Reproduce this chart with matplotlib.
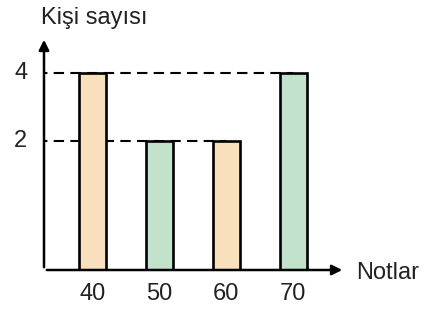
import numpy as np
import matplotlib.pyplot as plt

plt.rcParams['font.family'] = ['Liberation Sans', 'DejaVu Sans']

#Data
notlar = [40, 50, 60, 70]
kisi = [4, 2, 2, 4]
renkler = ['#F9E0BD', '#C2E2CC', '#F9E0BD', '#C2E2CC']
yticks = [2, 4]

base = -1.79      #where the x axis sits (axis is broken below 2)
xmin, xmax = 32.8, 77.7
ymax = 5.06
fs = 17

fig = plt.figure(figsize=(4.27, 3.09), dpi=100)
ax = fig.add_axes([44/427, 39/309, (345-44)/427, (270-37)/309])
ax.set_xlim(xmin, xmax)
ax.set_ylim(base, ymax)
ax.axis('off')

#dashed guides behind the bars
for v in yticks:
    last = max(n for n, k in zip(notlar, kisi) if k == v)
    ax.plot([xmin - 1.1, last], [v, v], ls=(0, (5, 3)), color='black', lw=1.5, zorder=1)
    ax.text(xmin - 2.5, v, str(v), ha='right', va='center', fontsize=fs, color='#222222')

#bars
ax.bar(notlar, np.array(kisi) - base, bottom=base, width=4, color=renkler,
       edgecolor='black', linewidth=1.9, zorder=2)

for n in notlar:
    ax.text(n, base - 0.72, str(n), ha='center', va='center', fontsize=fs, color='#222222')

#axes with arrows
ax.annotate('', xy=(xmax, base), xytext=(xmin, base),
            arrowprops=dict(arrowstyle='-|>', color='black', lw=1.8, mutation_scale=15),
            annotation_clip=False, zorder=3)
ax.annotate('', xy=(xmin, ymax), xytext=(xmin, base),
            arrowprops=dict(arrowstyle='-|>', color='black', lw=1.8, mutation_scale=15),
            annotation_clip=False, zorder=3)

fig.text(41/427, 1 - 18/309, 'Kişi sayısı', ha='left', va='center', fontsize=fs, color='#222222')
fig.text(356/427, 1 - 273/309, 'Notlar', ha='left', va='center', fontsize=fs, color='#222222')

fig.savefig('out.png', dpi=100)
